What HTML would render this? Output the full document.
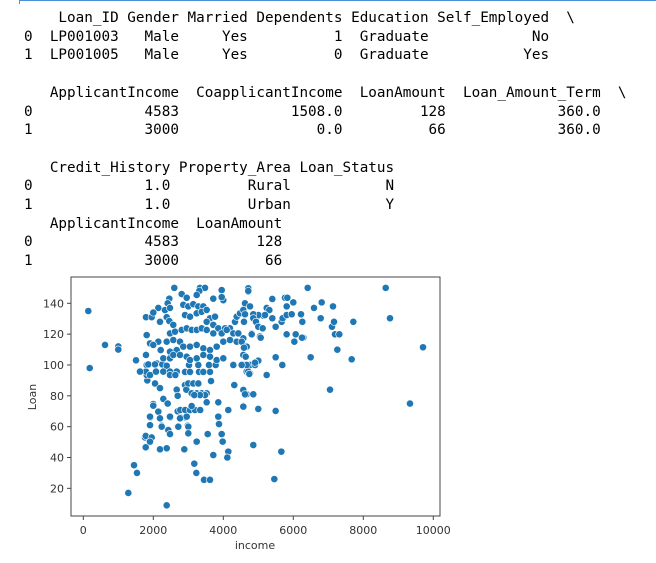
<!DOCTYPE html>
<html><head><meta charset="utf-8"><style>
html,body{margin:0;padding:0;background:#fff;width:656px;height:563px;overflow:hidden}
pre{position:absolute;left:24px;top:9px;margin:0;font-family:"DejaVu Sans Mono","Liberation Mono",monospace;font-size:14.3px;line-height:18.7px;color:#000}
svg{position:absolute;left:0;top:0}
</style></head><body>
<div style="position:absolute;left:19px;top:0;width:637px;height:1px;background:#4a90d9"></div>
<div style="position:absolute;left:19px;top:0;width:1px;height:4px;background:#4a90d9"></div>
<pre>    Loan_ID Gender Married Dependents Education Self_Employed  \
0  LP001003   Male     Yes          1  Graduate            No   
1  LP001005   Male     Yes          0  Graduate           Yes   

   ApplicantIncome  CoapplicantIncome  LoanAmount  Loan_Amount_Term  \
0             4583             1508.0         128             360.0   
1             3000                0.0          66             360.0   

   Credit_History Property_Area Loan_Status  
0             1.0         Rural           N  
1             1.0         Urban           Y  
   ApplicantIncome  LoanAmount
0             4583         128
1             3000          66</pre>
<svg id="chart" width="656" height="563" xmlns="http://www.w3.org/2000/svg"></svg>
<script>
const xTicks=[0,2000,4000,6000,8000,10000];
const yTicks=[20,40,60,80,100,120,140];
const income=[143,183,620,1000,1000,1506,1286,1449,1534,2383,1791,1954,1763,1783,1906,1914,1906,2191,2383,2886,3171,3229,3449,3620,3706,4126,4154,3954,3991,3543,3229,2477,2411,2240,2486,2697,2983,2991,2926,2771,2697,2770,2910,3050,3190,3340,3857,3869,4143,3525,4583,5000,4857,2286,2411,2000,2154,2669,2697,2906,2943,3000,3143,3286,3383,3525,3240,3097,2049,2191,1829,1811,1791,1906,1620,1811,2097,2257,2383,2077,2286,2477,2669,2477,2630,2906,3049,3306,3620,3429,3020,3286,3591,3782,4600,4763,4906,3649,4314,4583,4669,4763,4669,5000,
2600,2457,2411,2811,2954,3334,3477,3314,3240,3954,3714,4000,3954,4697,4714,4620,4763,4954,5143,5240,2143,2000,2334,2477,2383,2191,2457,2571,
2857,3000,3143,3286,3429,2906,3049,3240,3383,3525,3620,3763,3525,3714,3857,4049,4191,4334,4383,4477,4572,
2477,2620,2811,2954,3097,3240,3383,3525,3714,3954,4097,4286,4429,4572,
1811,1906,2143,2383,2572,2763,2000,2211,2477,2668,2857,3048,3240,3430,3620,3811,4000,4191,4383,4668,4811,5048,
1791,1857,2048,2286,2477,2572,2763,2954,3048,3240,3430,3620,3811,4000,4286,4572,
2000,2143,2286,2411,1906,2191,2477,2763,2954,1906,2240,2429,2715,3000,3000,2477,1783,1954,1906,1783,2191,2383,2886,3240,3554,3857,3877,3954,3982,4143,4115,3714,4572,4982,4857,4143,3857,3525,3477,3334,3171,3096,
4714,4714,6411,8640,8763,9706,9334,7049,5400,5763,5829,6000,6000,6591,6811,7134,5811,5315,
5191,5000,4857,4620,4591,4857,4934,5000,5125,5400,5496,5667,5696,5810,5954,6220,6258,6782,7105,7163,7715,
4811,5068,5810,6068,6286,6030,7191,7315,7258,7668,6248,6496,5496,5686,5239,5000,4906,4714,4743,4668,4525,4572,4620,4857,4572,5000,5496,4857,5658,5458,4639,4525,4591];
const loan=[135,98,113,112,110,103,17,35,30,9,131,131,53,47,51,66,61,45.5,46,45,36,30,25.5,25.5,41.6,40,44,55,50.5,55,50,55,58,60.6,66,60,60.6,55.7,66,66,70,70.8,70.8,70.8,70.8,70.8,66,61.5,70.8,76,73,71.5,48,78,75,74.7,70,84,80,87,84,88,88,88,81.6,81.6,81.6,81.6,88,85,90,93.5,95.7,93.5,95.7,100,101,100.4,99.5,95.7,95.7,95.7,95.7,93.5,93.5,95.5,95.5,95.5,95.5,95.5,100,100,100,100,100,100,100,89.6,87,84,81,94.6,95.7,103,
150,143,140,146,143.6,150,150,148,145.4,148.6,143,142,144,149.7,147.5,140,138,131,132,137,137,134,135.6,137,131,128,128.5,126,
139,138,139.4,138,138,132.4,131.3,133.5,134.5,135.7,130.3,131.3,128,126,123.8,123.8,123.8,128,131.3,133.5,135.7,
120.5,121.6,122.7,123.8,122.7,122.7,123.8,122.7,120.5,120.5,122.7,120.5,120.5,117.3,
119.4,114,115.1,115.1,116.2,115.1,113,109.7,108.6,109.7,111.9,111.9,113,110.8,109.7,111.9,115.1,116.2,115.1,111.9,120.5,118.5,
106.5,100.4,100.4,104.3,104.3,106.5,106.5,105.4,103.2,104.3,106.5,105.4,103.2,104.3,100,106.5,
73.6,69.7,78,75,66.5,65.4,66.5,65.4,66.5,61,60,57.8,60,60,55.7,55.2,54,53,50.3,46.6,45.3,46,45.3,50.3,55.2,66.5,61.7,55.2,50.3,43.8,40,41.6,73.4,71.5,48,70.8,75.8,75.8,80.5,80.5,80.5,73.4,
149.7,148,150,150,130.3,111.5,75,84,142.8,143.6,143.6,140.6,140.6,137,140.6,138,138,135.6,
132.4,132.4,132.9,132.9,128,130.3,128,124.8,123.8,130.3,124.8,128,130.3,132.4,132.9,132.9,128,130.3,124.8,128,128,
119.9,117.7,119.9,119.9,117.7,115.1,119.9,119.9,109.9,103.7,117.7,105,105,100,93.5,102.8,101.5,95.7,94.2,100,100,83.8,81,81,73,71.5,70.2,48.1,43.8,26,105.4,115.1,111.2];
const L=71,R=440,T=277,B=516;
const xs=v=>83.3+v*0.035;
const ys=v=>303.3+(140-v)*1.542;
const svg=document.getElementById('chart');
const NS='http://www.w3.org/2000/svg';
const FF='DejaVu Sans, Liberation Sans, sans-serif';
function mk(tag,attrs){const e=document.createElementNS(NS,tag);for(const k in attrs)e.setAttribute(k,attrs[k]);svg.appendChild(e);return e;}
const frame=mk('rect',{x:L,y:T,width:R-L,height:B-T,fill:'#fff',stroke:'#444','stroke-width':1});


for(const t of xTicks){
  const x=xs(t);
  const tk=mk('line',{x1:x,x2:x,y1:B,y2:B+4,stroke:'#444','stroke-width':1});
  
  
  const lb=mk('text',{x:x,y:B+18,'text-anchor':'middle','font-family':FF,'font-size':11,fill:'#333'});
  lb.textContent=t;
  
  
}
for(const t of yTicks){
  const y=ys(t);
  const tk=mk('line',{x1:L-4,x2:L,y1:y,y2:y,stroke:'#444','stroke-width':1});
  
  
  const lb=mk('text',{x:L-7,y:y+4,'text-anchor':'end','font-family':FF,'font-size':11,fill:'#333'});
  lb.textContent=t;
  
  
}
const xl=mk('text',{x:255,y:549,'text-anchor':'middle','font-family':FF,'font-size':11,fill:'#333'});
xl.textContent='income';


const yl=mk('text',{x:0,y:0,transform:'translate(36,397) rotate(-90)','text-anchor':'middle','font-family':FF,'font-size':11,fill:'#333'});
yl.textContent='Loan';


const n=Math.min(income.length,loan.length);
for(let i=0;i<n;i++){
  const c=mk('circle',{cx:xs(income[i]),cy:ys(loan[i]),r:3.6,fill:'#1f77b4',stroke:'#fff','stroke-width':0.6});
  
  
}
</script>
</body></html>
